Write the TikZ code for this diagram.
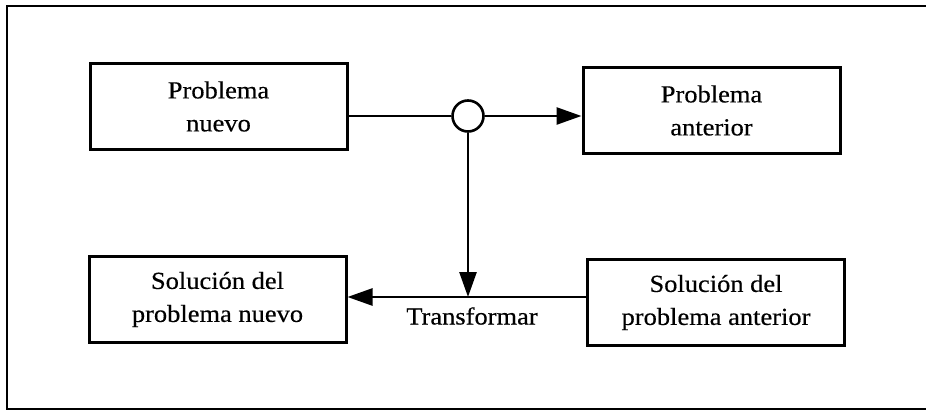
\documentclass[tikz,border=0pt]{standalone}
\usepackage{fontspec}
\setmainfont{Liberation Serif}[FakeStretch=1.08,FakeBold=0.4]
\usetikzlibrary{arrows.meta}
\begin{document}
\begin{tikzpicture}[x=1pt,y=-1pt,
  box/.style={draw, line width=3pt, minimum width=257pt, minimum height=86pt,
    align=center, inner sep=0pt, font=\fontsize{24.5}{33}\selectfont},
  link/.style={line width=2.6pt},
  tip/.style={-{Triangle[length=25pt,width=17pt]}},
  lbl/.style={font=\fontsize{24.5}{33}\selectfont, inner sep=0pt}]
  \useasboundingbox (0,0) rectangle (926,410);
  % outer frame (open on the right)
  \draw[line width=2.4pt] (926,6) -- (7,6) -- (7,409) -- (926,409);
  % boxes
  \node[box] (pn) at (218.5,106.5) {Problema\\nuevo};
  \node[box] (pa) at (711.5,110.5) {Problema\\anterior};
  \node[box] (sn) at (217.5,299.5) {Solución del\\problema nuevo};
  \node[box] (sa) at (716,302.5) {Solución del\\problema anterior};
  % matching junction
  \node[draw, circle, line width=2.6pt, minimum size=31pt, inner sep=0pt] (j) at (468,116) {};
  \coordinate (t) at (468,297);
  \draw[link, tip] (pn.east |- j) -- (j.west) (j.east) -- (pa.west |- j);
  \draw[link, tip] (j.south) -- (t);
  \draw[link] (sa.west |- t) -- (t);
  \draw[link, tip] (t) -- (sn.east |- t);
  \node[lbl] (tr) at (472,316) {Transformar};
\end{tikzpicture}
\end{document}
